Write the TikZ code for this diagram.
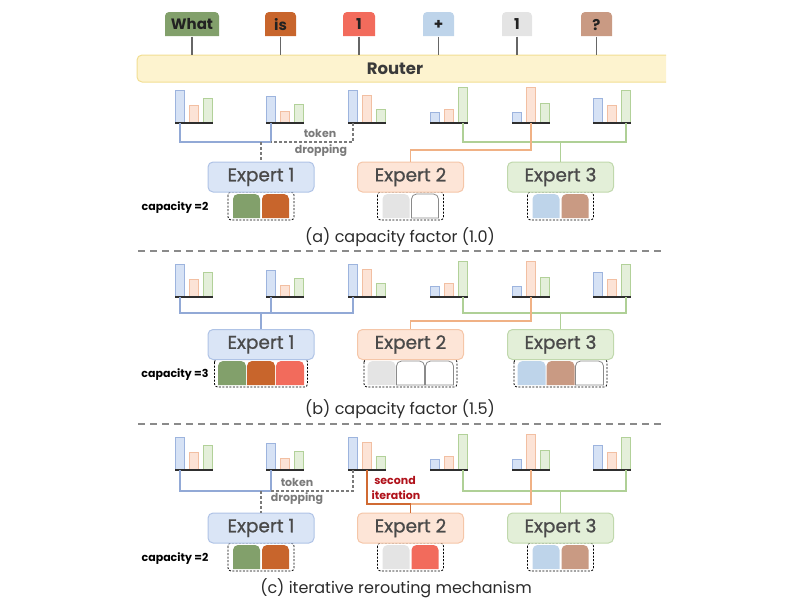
\documentclass[tikz,border=0pt]{standalone}
\usepackage{fontspec}
\setmainfont{Poppins}
\newfontfamily\expfont{Poppins}[FakeBold=0.9]
\definecolor{barBf}{HTML}{D6E2F5}
\definecolor{barBd}{HTML}{9DB4DE}
\definecolor{barOf}{HTML}{FCE3D6}
\definecolor{barOd}{HTML}{F2BFA2}
\definecolor{barGf}{HTML}{E4EFDA}
\definecolor{barGd}{HTML}{B2D199}
\definecolor{axisc}{HTML}{2E2E2E}
\definecolor{lnB}{HTML}{92A9D6}
\definecolor{lnO}{HTML}{F0B185}
\definecolor{lnR}{HTML}{D06A32}
\definecolor{lnG}{HTML}{AFD096}
\definecolor{dropc}{HTML}{7A7A7A}
\definecolor{e1f}{HTML}{DAE5F6}
\definecolor{e1d}{HTML}{AFC3E6}
\definecolor{e2f}{HTML}{FDE5D7}
\definecolor{e2d}{HTML}{F5C6A8}
\definecolor{e3f}{HTML}{E3EFD8}
\definecolor{e3d}{HTML}{C0D8AC}
\definecolor{expc}{HTML}{4A4A4A}
\definecolor{capc}{HTML}{2B2B2B}
\definecolor{routf}{HTML}{FDF3CF}
\definecolor{routd}{HTML}{F2DE92}
\definecolor{routc}{HTML}{3A3A3A}
\definecolor{tokWhat}{HTML}{82A06B}
\definecolor{tokIs}{HTML}{C8652C}
\definecolor{tokOne}{HTML}{F26B5C}
\definecolor{tokPlus}{HTML}{BED4EA}
\definecolor{tokGray}{HTML}{E4E4E4}
\definecolor{tokQ}{HTML}{C99A83}
\definecolor{tokc}{HTML}{222222}
\definecolor{toklc}{HTML}{666666}
\definecolor{sepc}{HTML}{8A8A8A}
\definecolor{iterc}{HTML}{B0121B}
\definecolor{slotd}{HTML}{8A8A8A}
\newcommand\topround[6]{\path[#1] (#2,#3+#5) -- (#2,#3+#6) arc[start angle=180,end angle=270,radius=#6] -- (#2+#4-#6,#3) arc[start angle=270,end angle=360,radius=#6] -- (#2+#4,#3+#5) -- cycle;}
\newcommand\captwo[4]{%
 \draw[capbox] (#1-33,#2) rectangle (#1+33,#2+28);
 \topround{#3}{#1-28}{#2+2}{27}{24}{5}
 \topround{#4}{#1+1}{#2+2}{27}{24}{5}}
\newcommand\capthree[5]{%
 \draw[capbox] (#1-46.5,#2) rectangle (#1+46.5,#2+28);
 \topround{#3}{#1-43}{#2+2}{28}{24}{5}
 \topround{#4}{#1-14}{#2+2}{28}{24}{5}
 \topround{#5}{#1+15}{#2+2}{28}{24}{5}}
\tikzset{
 barB/.style={fill=barBf, draw=barBd, line width=0.6pt},
 barO/.style={fill=barOf, draw=barOd, line width=0.6pt},
 barG/.style={fill=barGf, draw=barGd, line width=0.6pt},
 chartaxis/.style={draw=axisc, line width=2.4pt},
 pics/chart/.style n args={3}{code={
   \path[barB] (0.5,0) rectangle (9.5,-#1);
   \path[barO] (14.5,0) rectangle (23.5,-#2);
   \path[barG] (28.5,0) rectangle (37.5,-#3);
   \path[chartaxis] (0,0) -- (38,0);}},
 conn/.style={line width=1.4pt},
 lineB/.style={conn, draw=lnB},
 lineO/.style={conn, draw=lnO},
 lineR/.style={conn, draw=lnR},
 lineG/.style={conn, draw=lnG},
 drop/.style={draw=dropc, dash pattern=on 3pt off 2pt, line width=1.2pt},
 expert/.style={rectangle, rounded corners=5pt, minimum width=106pt, minimum height=30pt, line width=1pt, text=expc, font=\expfont\fontsize{18.5}{20}\selectfont, inner sep=0pt},
 capbox/.style={draw=black, dash pattern=on 2pt off 1.5pt, line width=0.8pt, rounded corners=3pt},
 caplabel/.style={font=\bfseries\fontsize{11}{12}\selectfont, text=black},
 caption/.style={font=\fontsize{16}{18}\selectfont, text=capc},
 tok/.style={minimum height=24pt, inner sep=0pt, font=\bfseries\fontsize{15}{17}\selectfont, text=tokc},
 tokline/.style={draw=toklc, line width=1.3pt},
 routerbox/.style={fill=routf, draw=routd, line width=1pt, rounded corners=5pt},
 routertext/.style={minimum height=27pt, inner sep=0pt, font=\bfseries\fontsize{16.5}{18}\selectfont, text=routc},
 sep/.style={draw=sepc, line width=1.2pt, dash pattern=on 7pt off 5pt},
 droptext/.style={font=\bfseries\fontsize{11}{12}\selectfont, text=dropc},
 itertext/.style={font=\bfseries\fontsize{11}{12}\selectfont, text=iterc},
 slotwhite/.style={fill=white, draw=slotd, line width=0.8pt},
}
\begin{document}
\begin{tikzpicture}[x=1pt,y=-1pt]
\useasboundingbox (0,0) rectangle (800,600);
% router
\begin{scope}
\clip (0,0) rectangle (666,600);
\path[routerbox] (137,55) rectangle (700,82);
\end{scope}
\node[routertext] (router) at (395,68.5) {Router};
% tokens
\foreach \n/\cx/\w/\col/\t in {t1/192/54/tokWhat/What, t2/280.5/31/tokIs/is, t3/359/32/tokOne/1, t4/438.5/31/tokPlus/+, t5/517/30/tokGray/1, t6/596.5/31/tokQ/?}{
  \topround{fill=\col}{\cx-\w/2}{12}{\w}{24}{4}
  \node[tok, minimum width=\w pt] (\n) at (\cx,24.5) {\t};
  \draw[tokline] (\n.south) -- (\n.south |- router.north);
}
% separators
\draw[sep] (138,251) -- (665,251);
\draw[sep] (138,424) -- (665,424);
% capacity containers
\captwo{261}{192}{fill=tokWhat}{fill=tokIs}
\captwo{410.5}{192}{fill=tokGray}{slotwhite}
\captwo{560.5}{192}{fill=tokPlus}{fill=tokQ}
\capthree{261}{359}{fill=tokWhat}{fill=tokIs}{fill=tokOne}
\capthree{410.5}{359}{fill=tokGray}{slotwhite}{slotwhite}
\capthree{560.5}{359}{fill=tokPlus}{fill=tokQ}{slotwhite}
\captwo{261}{543}{fill=tokWhat}{fill=tokIs}
\captwo{410.5}{543}{fill=tokGray}{fill=tokOne}
\captwo{560.5}{543}{fill=tokPlus}{fill=tokQ}
% panels
\foreach \p/\B/\H/\O/\E in {a/123/142/150/177, b/297/313/321/344.5, c/470/491/504/528}{
  \foreach \x/\hb/\ho/\hg in {175/33/18/25, 266/27/12/19, 348/33/28/14, 430/11/14/36, 512/11/36/20, 593/25/18/33}
    \pic at (\x,\B) {chart={\hb}{\ho}{\hg}};
  \coordinate (\p-s1) at (180,\B);
  \coordinate (\p-s2) at (271,\B);
  \coordinate (\p-s3) at (353,\B);
  \coordinate (\p-s3o) at (367,\B);
  \coordinate (\p-s4) at (463,\B);
  \coordinate (\p-s5) at (531,\B);
  \coordinate (\p-s6) at (626,\B);
  \coordinate (\p-j1) at (261,\H);
  \coordinate (\p-k2) at (271,\H);
  \coordinate (\p-jg) at (560.5,\H);
  \coordinate (\p-jo) at (410.5,\O);
  \node[expert, fill=e1f, draw=e1d] (\p-e1) at (261,\E) {Expert 1};
  \node[expert, fill=e2f, draw=e2d] (\p-e2) at (410.5,\E) {Expert 2};
  \node[expert, fill=e3f, draw=e3d] (\p-e3) at (560.5,\E) {Expert 3};
  \draw[lineG] (\p-s4) |- (\p-jg) -| (\p-s6);
  \draw[lineG] (\p-jg) -- (\p-e3.north);
}
% panel (a) routing
\draw[lineO] (a-s5) |- (a-jo) -- (a-e2.north);
\draw[lineB] (a-s1) |- (a-j1) -| (a-s2);
\draw[drop] (a-s3) |- (a-k2);
\draw[drop] (a-j1) -- (a-e1.north);
\node[droptext] (a-tok) at (320,133) {token};
\node[droptext] (a-drp) at (321,151) {dropping};
% panel (b) routing
\draw[lineO] (b-s5) |- (b-jo) -- (b-e2.north);
\draw[lineB] (b-s1) |- (b-j1) -| (b-s3);
\draw[lineB] (b-s2) -- (b-k2);
\draw[lineB] (b-j1) -- (b-e1.north);
% panel (c) routing
\draw[lineO] (c-s5) |- (c-jo);
\draw[lineR] (c-s3o) |- (c-jo) -- (c-e2.north);
\draw[lineB] (c-s1) |- (c-j1) -| (c-s2);
\draw[drop] (c-s3) |- (c-k2);
\draw[drop] (c-j1) -- (c-e1.north);
\node[droptext] (c-tok) at (297,482) {token};
\node[droptext] (c-drp) at (297,499) {dropping};
\node[itertext] (c-sec) at (395,480) {second};
\node[itertext] (c-itr) at (396,495) {iteration};
% capacity labels
\node[caplabel] (a-cap) at (175,208) {capacity =2};
\node[caplabel] (b-cap) at (175,375) {capacity =3};
\node[caplabel] (c-cap) at (175,559) {capacity =2};
% captions
\node[caption] (a-cpt) at (400,237) {(a) capacity factor (1.0)};
\node[caption] (b-cpt) at (400,409) {(b) capacity factor (1.5)};
\node[caption] (c-cpt) at (396,588) {(c) iterative rerouting mechanism};
\end{tikzpicture}
\end{document}
